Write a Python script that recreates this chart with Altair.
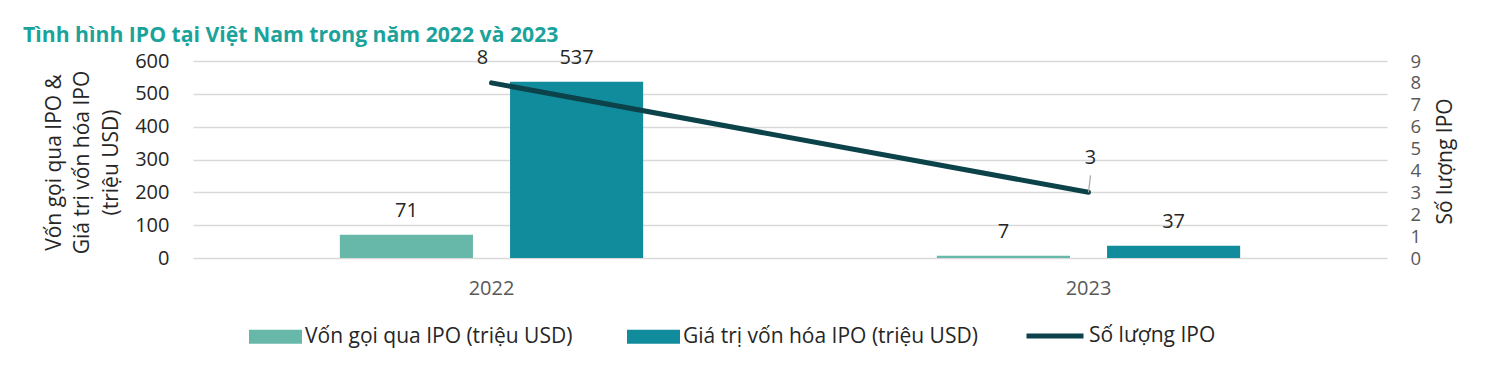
import altair as alt
import pandas as pd

# ---- data ----
years = ["2022", "2023"]
von_goi = [71, 7]          # Vốn gọi qua IPO (triệu USD)
gia_tri = [537, 37]        # Giá trị vốn hóa IPO (triệu USD)
so_luong = [8, 3]          # Số lượng IPO
bar_series = ["Vốn gọi qua IPO (triệu USD)", "Giá trị vốn hóa IPO (triệu USD)"]
line_series = "Số lượng IPO"
title_text = "Tình hình IPO tại Việt Nam trong năm 2022 và 2023"
left_title = ["Vốn gọi qua IPO &", "Giá trị vốn hóa IPO", "(triệu USD)"]
left_ticks = [0, 100, 200, 300, 400, 500, 600]
right_ticks = [0, 1, 2, 3, 4, 5, 6, 7, 8, 9]

FONT = "Open Sans"
C_LIGHT = "#67b8a9"
C_DARK = "#118c9c"
C_LINE = "#0c434a"
C_TITLE = "#1ba39b"
C_TEXT = "#262626"
C_GREY = "#595959"

bars_df = pd.DataFrame({
    "year": years * 2,
    "series": [bar_series[0]] * 2 + [bar_series[1]] * 2,
    "value": von_goi + gia_tri,
})
line_df = pd.DataFrame({"year": years, "count": so_luong, "series": [line_series] * 2})

x_enc = alt.X("year:N", scale=alt.Scale(paddingInner=0.492, paddingOuter=0.246),
              axis=alt.Axis(title=None, labelAngle=0, labelFontSize=20, labelColor=C_GREY,
                            labelFont=FONT, labelPadding=20, domain=False, ticks=False,
                            grid=False))
xoff = alt.XOffset("series:N", scale=alt.Scale(domain=bar_series, paddingInner=0.218, paddingOuter=0))

y_left = alt.Y("value:Q", scale=alt.Scale(domain=[0, 600], nice=False),
               axis=alt.Axis(values=left_ticks, title=left_title, labelOverlap=False,
                             titleFontSize=21, titleFontWeight="normal", titleColor=C_TEXT,
                             titleFont=FONT, titleLineHeight=28.5, titleBaseline="middle",
                             titleAlign="center",
                             titleX=-139, titleY=101, titleAngle=270,
                             labelFontSize=20, labelColor=C_TEXT, labelFont=FONT,
                             labelPadding=24, domain=False, ticks=False,
                             grid=True, gridColor="#d9d9d9", gridWidth=1.5))

y_right = alt.Y("count:Q", scale=alt.Scale(domain=[0, 9], nice=False),
                axis=alt.Axis(orient="right", values=right_ticks, title=line_series,
                              labelOverlap=False,
                              titleFontSize=21, titleFontWeight="normal", titleColor=C_TEXT,
                              titleFont=FONT, titleAngle=270, titleBaseline="middle",
                              titleAlign="center", titleX=58, titleY=100,
                              labelFontSize=18.5, labelColor=C_GREY, labelFont=FONT,
                              labelPadding=23, domain=False, ticks=False, grid=False))

bars = alt.Chart(bars_df).mark_bar().encode(
    x=x_enc, xOffset=xoff, y=y_left,
    color=alt.Color("series:N", scale=alt.Scale(domain=bar_series, range=[C_LIGHT, C_DARK]),
                    legend=alt.Legend(title=None, orient="none", legendX=56, legendY=249,
                                      direction="horizontal",
                                      symbolType="M-1,-0.264L1,-0.264L1,0.264L-1,0.264Z",
                                      symbolSize=2809, symbolStrokeWidth=0, symbolOpacity=1,
                                      labelFontSize=21, labelFont=FONT, labelColor=C_TEXT,
                                      labelOffset=3, columnPadding=54, labelLimit=400)),
)
bar_labels = alt.Chart(bars_df).mark_text(dy=-24, baseline="middle", fontSize=20, font=FONT,
                                          color=C_TEXT).encode(
    x=x_enc, xOffset=xoff, y=y_left, text="value:Q")

left_layer = alt.layer(bars, bar_labels)

line = alt.Chart(line_df).mark_line(strokeWidth=5, strokeCap="round").encode(
    x=x_enc, y=y_right,
    stroke=alt.Stroke("series:N", scale=alt.Scale(domain=[line_series], range=[C_LINE]),
                      legend=alt.Legend(title=None, orient="none", legendX=831, legendY=244,
                                        symbolType="stroke", symbolSize=3249,
                                        symbolStrokeWidth=5, labelFontSize=21, labelFont=FONT,
                                        labelColor=C_TEXT, labelOffset=3)),
)
lab8 = alt.Chart(line_df).transform_filter(alt.datum.year == "2022").mark_text(
    dx=-9, dy=-25, baseline="middle", fontSize=20, font=FONT, color=C_TEXT).encode(
    x=x_enc, y=y_right, text="count:Q")
lab3 = alt.Chart(line_df).transform_filter(alt.datum.year == "2023").mark_text(
    dx=2, dy=-34, baseline="middle", fontSize=20, font=FONT, color=C_TEXT).encode(
    x=x_enc, y=y_right, text="count:Q")
leader = alt.Chart(line_df).transform_filter(alt.datum.year == "2023").mark_rule(
    color="#a6a6a6", strokeWidth=1.2, y2Offset=-17, x2Offset=2).encode(
    x=x_enc, x2="year:N", y=y_right, y2="count:Q")

right_layer = alt.layer(line, leader, lab8, lab3)

chart = alt.layer(left_layer, right_layer).resolve_scale(
    y="independent", color="independent"
).properties(
    width=1194, height=197,
    padding={"left": 193, "top": 61, "right": 113, "bottom": 118},
    autosize=alt.AutoSizeParams(type="none"),
    title=alt.TitleParams(text=title_text, anchor="start", frame="group", dx=-170, dy=3,
                          fontSize=21.2, font=FONT, fontWeight="bold", color=C_TITLE,
                          offset=4),
).configure(background="white").configure_view(stroke=None)

chart.save("out.html", embed_options={"renderer": "svg", "actions": False})
